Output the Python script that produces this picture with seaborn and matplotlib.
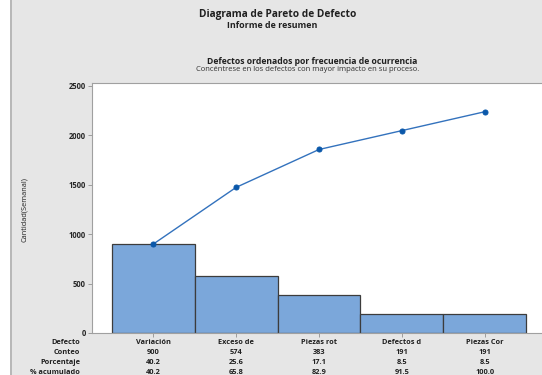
import numpy as np
import pandas as pd
import matplotlib
matplotlib.use("Agg")
import matplotlib.pyplot as plt
import matplotlib.transforms as mtransforms
from matplotlib.patches import Rectangle
import seaborn as sns

# data
defectos = ["Variación", "Exceso de", "Piezas rot", "Defectos d", "Piezas Cor"]
conteo = [900, 574, 383, 191, 191]
porcentaje = [40.2, 25.6, 17.1, 8.5, 8.5]
acumulado = [40.2, 65.8, 82.9, 91.5, 100.0]
y_ticks = [0, 500, 1000, 1500, 2000, 2500]

df = pd.DataFrame({"Defecto": defectos, "Conteo": conteo})
df["pos"] = np.arange(len(df))
df["Cum"] = df["Conteo"].cumsum()

sns.set_style("white")
plt.rcParams["font.family"] = ["Open Sans", "DejaVu Sans"]

W, H = 542, 375
fig = plt.figure(figsize=(W / 100, H / 100), dpi=100)
fig.patch.set_facecolor("#e6e6e6")

# white strip on the left edge
fig.patches.append(Rectangle((0, 0), 10 / W, 1, transform=fig.transFigure,
                             facecolor="white", edgecolor="none", zorder=0))
fig.patches.append(Rectangle((10 / W, 0), 1.5 / W, 1, transform=fig.transFigure,
                             facecolor="#b8b8b8", edgecolor="none", zorder=0))

left, right, top, bottom = 92, 546, 82.5, 333
ax = fig.add_axes([left / W, 1 - bottom / H, (right - left) / W, (bottom - top) / H])
ax.set_facecolor("white")

sns.barplot(data=df, x="Defecto", y="Conteo", width=1.0, color="#7ba7da",
            saturation=1, edgecolor="#3c3c3c", linewidth=0.9, ax=ax)
sns.lineplot(data=df, x="pos", y="Cum", color="#3372bd", linewidth=1.0,
             marker="o", markersize=3.6, markeredgecolor="#0b58aa",
             markerfacecolor="#0b58aa", ax=ax)

ax.set_xlim(-0.74, 4.74)
ax.set_ylim(0, 2535)
ax.set_yticks(y_ticks)
ax.set_yticklabels([str(v) for v in y_ticks], fontsize=5.5, fontweight="bold")
ax.set_xticks(np.arange(len(defectos)))
ax.set_xticklabels([])
ax.tick_params(axis="both", length=3, width=0.6, color="#909090", pad=1.5,
               left=True, bottom=True)
for s in ax.spines.values():
    s.set_color("#a0a0a0")
    s.set_linewidth(0.8)
ax.set_xlabel("")
ax.set_ylabel("")

fig.text(25 / W, 1 - 210 / H, "Cantidad(Semanal)", rotation=90, fontsize=5.3,
         ha="center", va="center", color="#202020")

# titles
fig.text(278 / W, 1 - 15 / H, "Diagrama de Pareto de Defecto", fontsize=7.3,
         fontweight="bold", ha="center", va="center", color="#202020")
fig.text(272 / W, 1 - 26 / H, "Informe de resumen", fontsize=6.4,
         fontweight="bold", ha="center", va="center", color="#202020")
fig.text(312 / W, 1 - 61 / H, "Defectos ordenados por frecuencia de ocurrencia",
         fontsize=6.2, fontweight="bold", ha="center", va="center", color="#202020")
fig.text(308 / W, 1 - 69.5 / H,
         "Concéntrese en los defectos con mayor impacto en su proceso.",
         fontsize=5.5, ha="center", va="center", color="#303030")

# table under the axis
trans = mtransforms.blended_transform_factory(ax.transData, fig.transFigure)
rows = [
    ("Defecto", defectos),
    ("Conteo", [str(v) for v in conteo]),
    ("Porcentaje", [f"{v:.1f}" for v in porcentaje]),
    ("% acumulado", [f"{v:.1f}" for v in acumulado]),
]
for i, (name, vals) in enumerate(rows):
    yy = 1 - (342 + 10 * i) / H
    fig.text(80 / W, yy, name, fontsize=5.3, fontweight="bold", ha="right",
             va="center", color="#202020")
    for j, v in enumerate(vals):
        ax.text(j, yy, v, transform=trans, fontsize=5.3, fontweight="bold",
                ha="center", va="center", color="#202020", clip_on=False)

fig.savefig("out.png", dpi=100, facecolor=fig.get_facecolor())
